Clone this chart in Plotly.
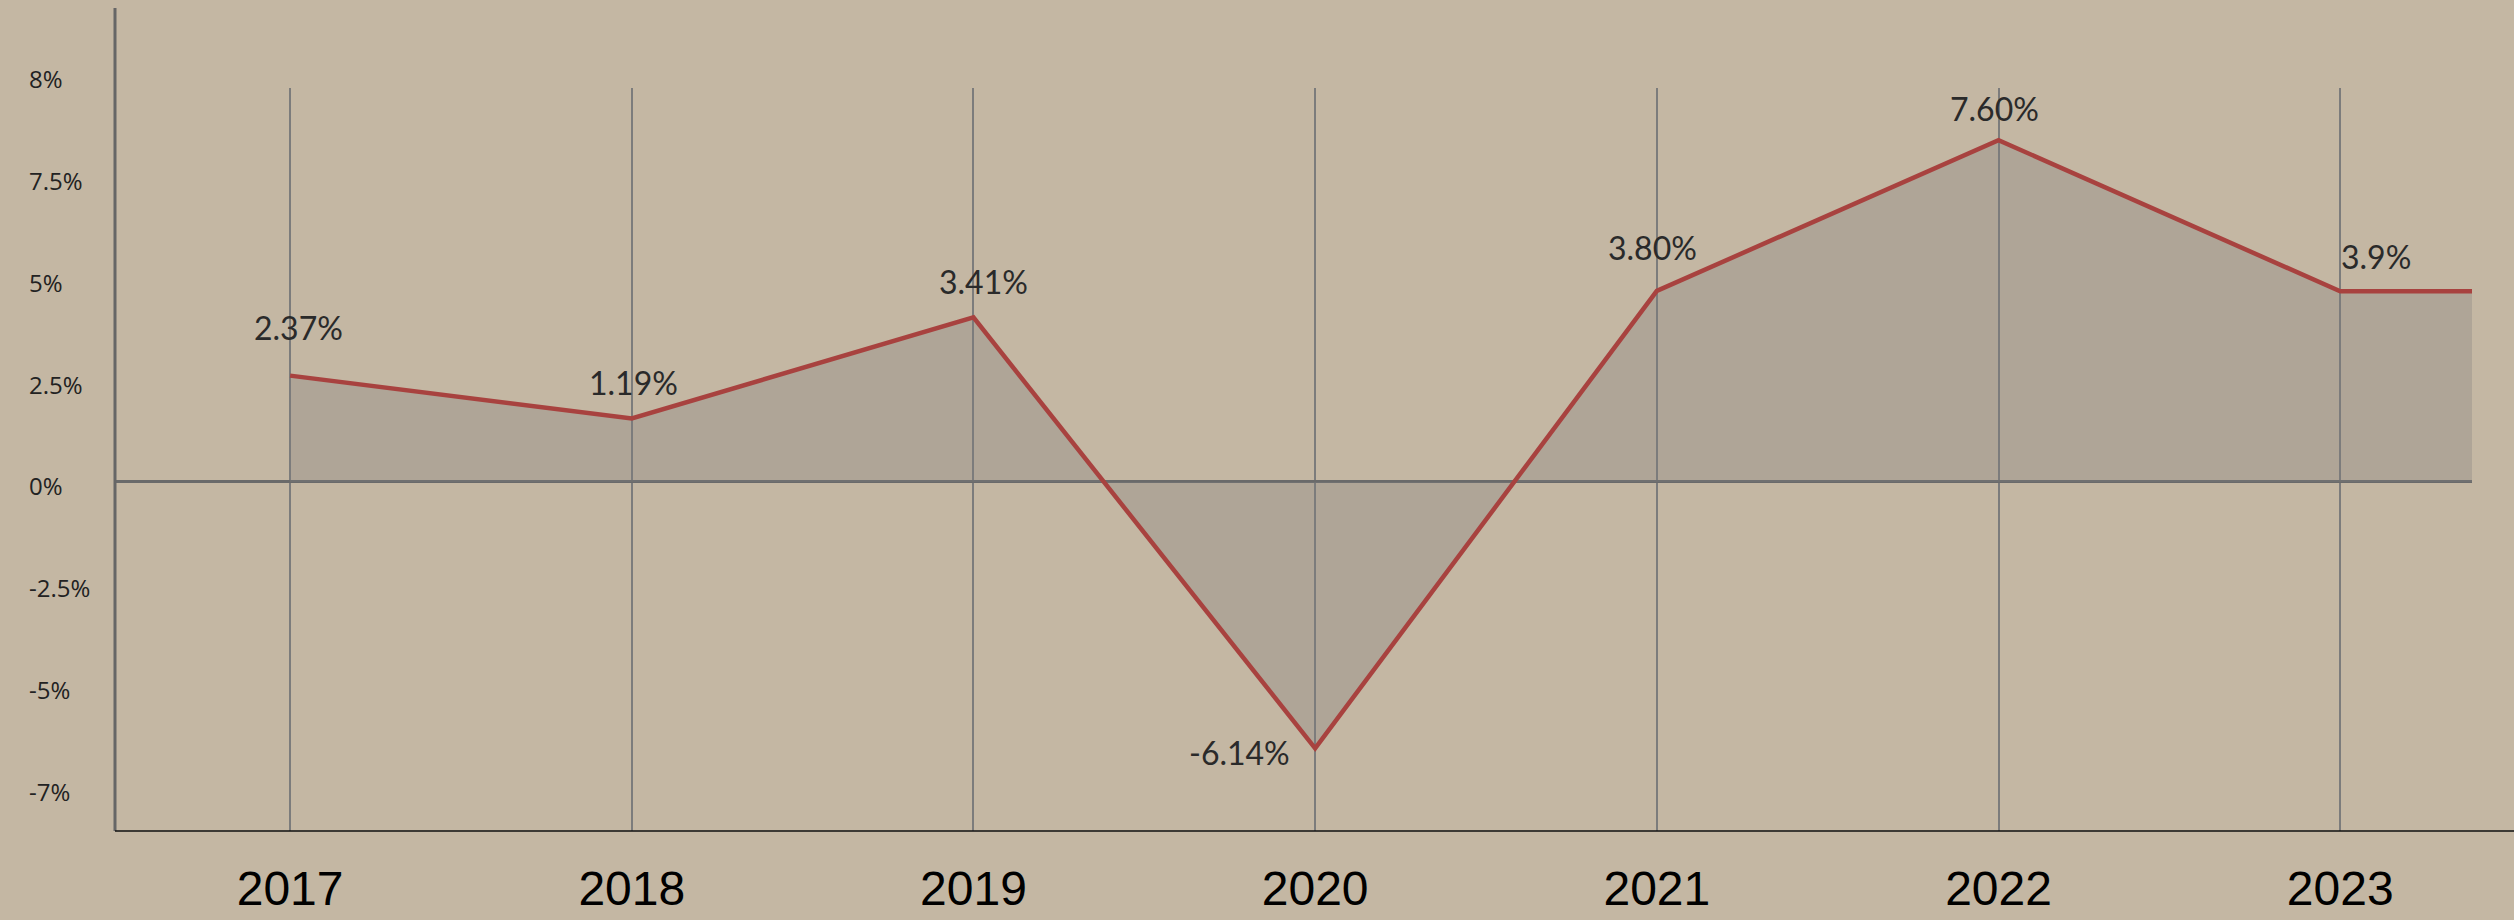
import plotly.graph_objects as go

# ---- data ----
years = [2017, 2018, 2019, 2020, 2021, 2022, 2023, 2024]
plotted_values = [2.61, 1.56, 4.04, -6.54, 4.69, 8.39, 4.68, 4.68]
point_labels = ["2.37%", "1.19%", "3.41%", "-6.14%", "3.80%", "7.60%", "3.9%"]
year_ticks = [2017, 2018, 2019, 2020, 2021, 2022, 2023]
y_tick_vals = [10, 7.5, 5, 2.5, 0, -2.5, -5, -7.5]
y_tick_text = ["8%", "7.5%", "5%", "2.5%", "0%", "-2.5%", "-5%", "-7%"]

# ---- styling ----
W, H = 2514, 920
ML, MR, MT, MB = 115, 42, 88, 89
BG = "#c4b7a3"
Y_RANGE = [-8.567, 9.67]
label_shift = [(8, 48), (2, 36), (10, 36), (-76, -4), (-4, 43), (-4, 32), (36, 35)]

fig = go.Figure()
fig.add_trace(go.Scatter(
    x=years, y=plotted_values, mode="lines",
    line=dict(color="#a8423f", width=4.5),
    fill="tozeroy", fillcolor="rgba(125,125,125,0.30)",
    hoverinfo="skip", showlegend=False,
))

annotations = []
for yr, txt, (dx, dy), v in zip(year_ticks, point_labels, label_shift, plotted_values):
    annotations.append(dict(
        x=yr, y=v, xref="x", yref="y", text=txt, showarrow=False,
        xshift=dx, yshift=dy, xanchor="center", yanchor="middle",
        font=dict(family="Lato", size=32, color="#2a2a2a"),
    ))

plot_w = W - ML - MR
for tv, tt in zip(y_tick_vals, y_tick_text):
    annotations.append(dict(
        x=(27 - ML) / plot_w,
        y=(tv - Y_RANGE[0]) / (Y_RANGE[1] - Y_RANGE[0]),
        xref="paper", yref="paper", text=tt,
        showarrow=False, xanchor="left", yanchor="middle", yshift=-4,
        font=dict(family="Open Sans", size=24, color="#222222"),
    ))

plot_h = H - MT - MB
shapes = [
    dict(type="line", xref="paper", yref="paper", x0=0, x1=0,
         y0=0, y1=(H - MB - 8) / plot_h, line=dict(color="#666666", width=3)),
    dict(type="line", xref="paper", yref="paper", x0=0, x1=(W - ML) / plot_w,
         y0=0, y1=0, line=dict(color="#111111", width=1.5)),
]

fig.update_layout(
    width=W, height=H,
    margin=dict(l=ML, r=MR, t=MT, b=MB, autoexpand=False),
    paper_bgcolor=BG, plot_bgcolor=BG,
    annotations=annotations, shapes=shapes,
    xaxis=dict(
        range=[2016.4876, 2023.3857],
        tickvals=year_ticks, ticktext=[str(y) for y in year_ticks],
        showgrid=True, gridcolor="#7c7c7c", gridwidth=1.5,
        zeroline=False, showline=False, automargin=False,
        ticks="outside", ticklen=15, tickcolor="rgba(0,0,0,0)",
        tickfont=dict(family="Liberation Sans", size=48, color="#000000"),
    ),
    yaxis=dict(
        range=Y_RANGE, automargin=False,
        showgrid=False, showticklabels=False,
        zeroline=True, zerolinecolor="#6a6a6a", zerolinewidth=3,
        showline=False,
    ),
)

fig.write_html(
    "out.html",
    config={"displayModeBar": False},
    post_script="document.body.style.margin='0';document.body.style.background='%s';document.body.style.overflow='hidden';" % BG,
)
